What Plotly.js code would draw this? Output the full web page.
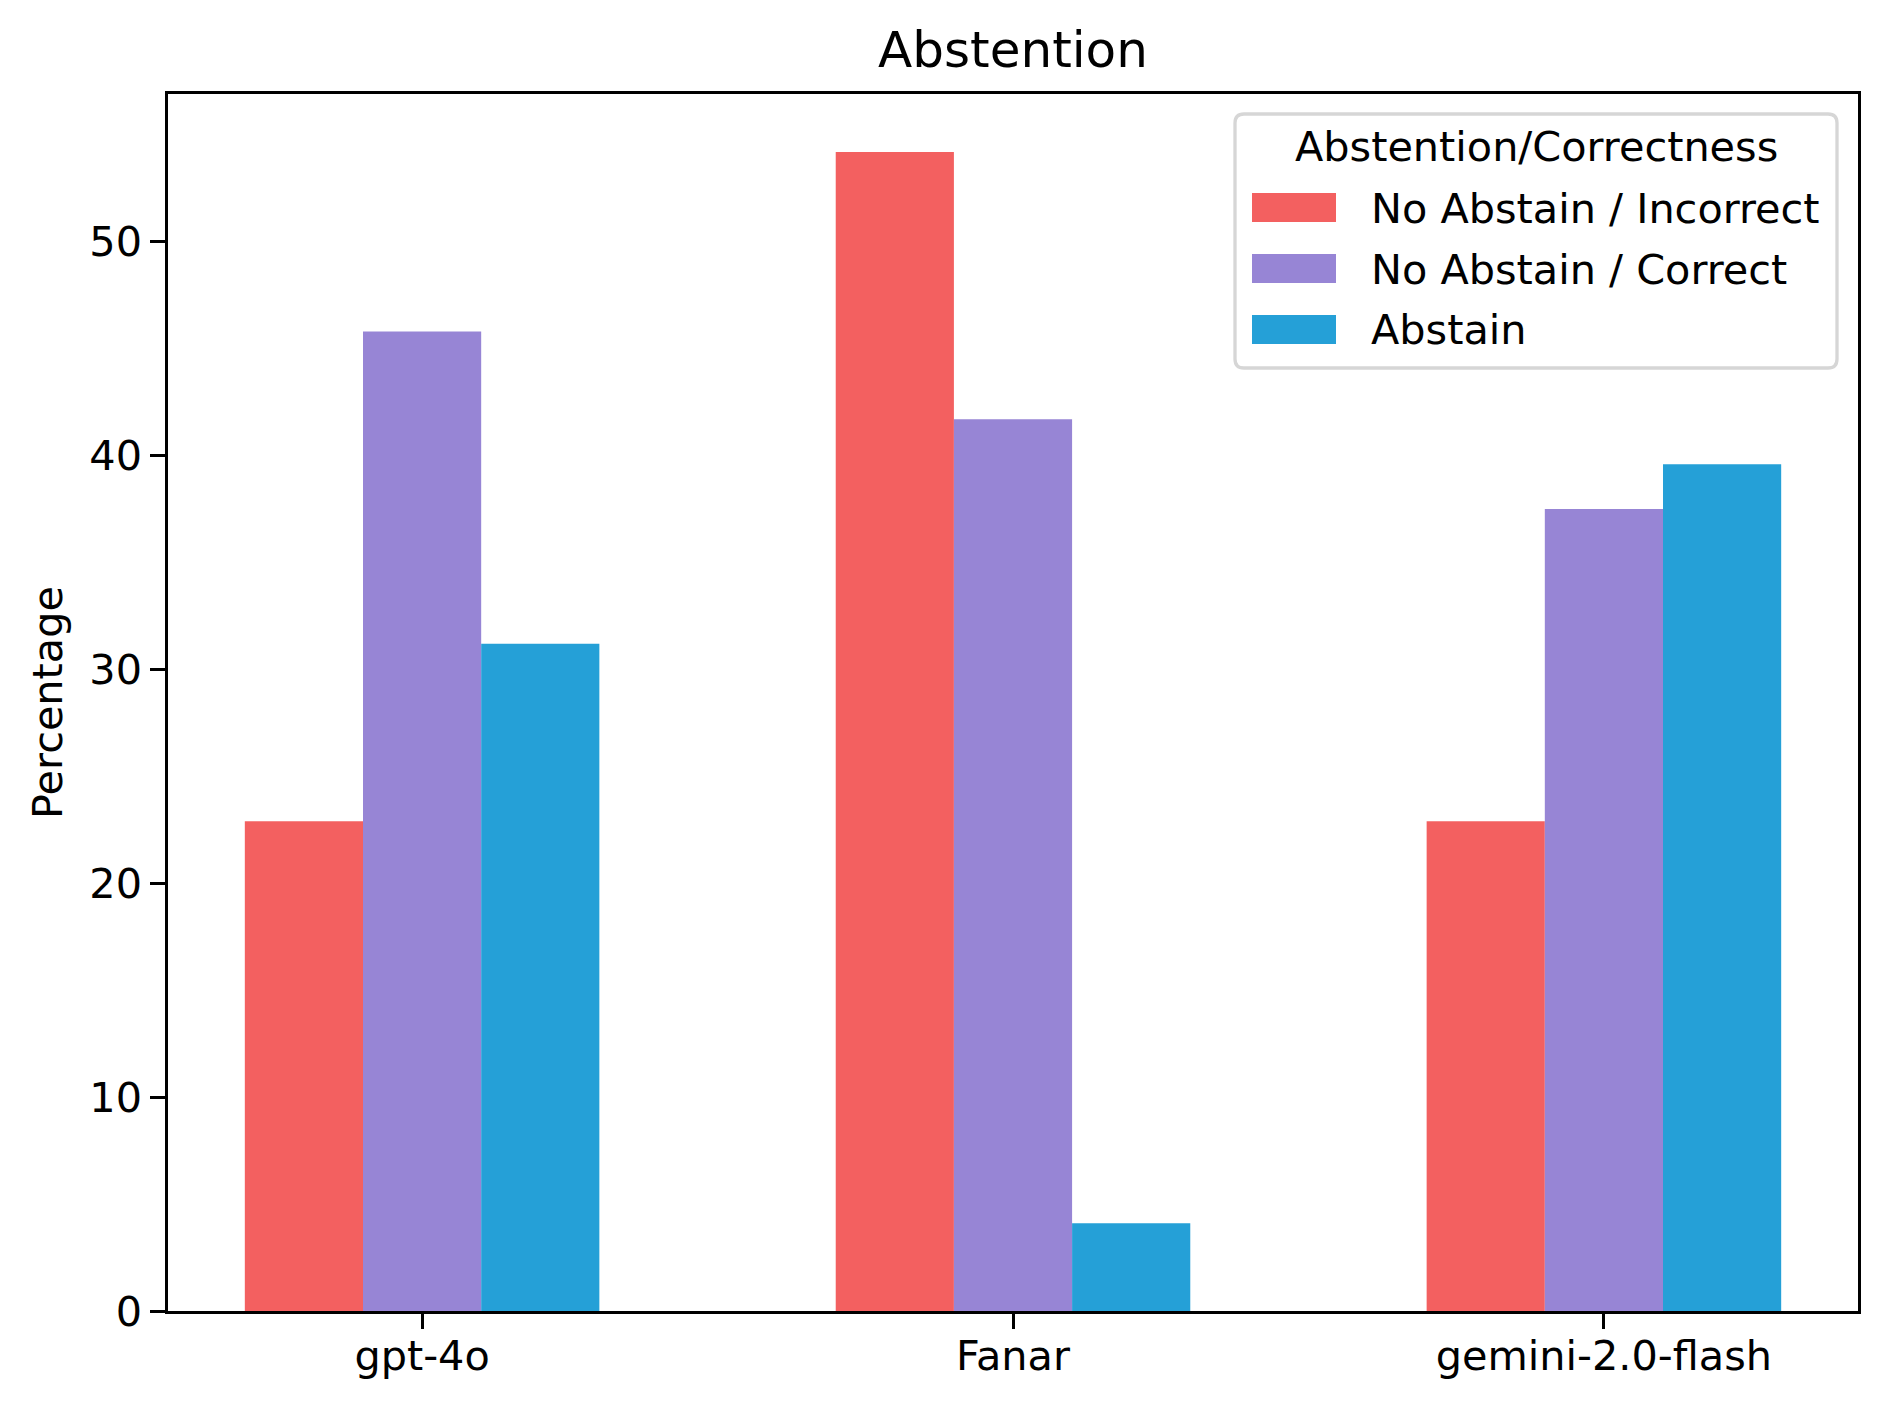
<!DOCTYPE html>
<html>
<head>
<meta charset="utf-8">
<script src="https://cdn.plot.ly/plotly-3.0.1.min.js"></script>
<style>html,body{margin:0;padding:0;background:#fff;}#chart{width:1887px;height:1410px;}</style>
</head>
<body>
<div id="chart"></div>
<script>
// ---- data ----
var models = ["gpt-4o", "Fanar", "gemini-2.0-flash"];
var seriesNames = ["No Abstain / Incorrect", "No Abstain / Correct", "Abstain"];
var incorrect = [22.9, 54.2, 22.9];
var correct = [45.8, 41.7, 37.5];
var abstain = [31.2, 4.1, 39.6];
var seriesColors = ["#f36060", "#9785d5", "#25a0d7"];
var legendTitle = "Abstention/Correctness";
var chartTitle = "Abstention";
var yTitle = "Percentage";
var yTicks = [0, 10, 20, 30, 40, 50];

// ---- layout geometry (pixels) ----
var W = 1887, H = 1410;
var L = 168, R = 1858, T = 94, B = 1311;
function px(x) { return (x - L) / (R - L); }
function py(y) { return (B - y) / (B - T); }
var FONT = "DejaVu Sans, Liberation Sans, sans-serif";
var FS = 41.4;

var values = [incorrect, correct, abstain];
var traces = values.map(function (v, i) {
  return {
    type: "bar",
    x: models,
    y: v,
    name: seriesNames[i],
    marker: { color: seriesColors[i], line: { width: 0 } },
    showlegend: false,
    hoverinfo: "x+y+name"
  };
});

// custom matplotlib-like legend
var lx0 = 1235, lx1 = 1837, ly0 = 114, ly1 = 368, rad = 9;
var rx = rad / (R - L), ry = rad / (B - T);
var X0 = px(lx0), X1 = px(lx1), Y0 = py(ly1), Y1 = py(ly0);
var framePath = "M " + (X0 + rx) + " " + Y1 +
  " L " + (X1 - rx) + " " + Y1 + " Q " + X1 + " " + Y1 + " " + X1 + " " + (Y1 - ry) +
  " L " + X1 + " " + (Y0 + ry) + " Q " + X1 + " " + Y0 + " " + (X1 - rx) + " " + Y0 +
  " L " + (X0 + rx) + " " + Y0 + " Q " + X0 + " " + Y0 + " " + X0 + " " + (Y0 + ry) +
  " L " + X0 + " " + (Y1 - ry) + " Q " + X0 + " " + Y1 + " " + (X0 + rx) + " " + Y1 + " Z";

var shapes = [{
  type: "path", xref: "paper", yref: "paper", path: framePath,
  fillcolor: "rgba(255,255,255,0.8)", line: { color: "#d6d6d6", width: 3.3 }, layer: "above"
}];
var annotations = [{
  xref: "paper", yref: "paper", x: px((lx0 + lx1) / 2), y: py(147),
  xanchor: "center", yanchor: "middle", showarrow: false,
  text: legendTitle, font: { family: FONT, size: FS, color: "#000" }
}];
var rowCenters = [207.5, 268.5, 329.5];
seriesNames.forEach(function (n, i) {
  var c = rowCenters[i];
  shapes.push({
    type: "rect", xref: "paper", yref: "paper",
    x0: px(1252), x1: px(1336), y0: py(c + 14.5), y1: py(c - 14.5),
    fillcolor: seriesColors[i], line: { width: 0 }, layer: "above"
  });
  annotations.push({
    xref: "paper", yref: "paper", x: px(1369), y: py(c + 1),
    xanchor: "left", yanchor: "middle", showarrow: false,
    text: n, font: { family: FONT, size: FS, color: "#000" }
  });
});

var axisCommon = {
  showline: true, linecolor: "#000", linewidth: 3.3, mirror: true,
  ticks: "outside", ticklen: 14.6, tickwidth: 3.3, tickcolor: "#000",
  showgrid: false, zeroline: false,
  tickfont: { family: FONT, size: FS, color: "#000" }
};

var layout = {
  width: W, height: H,
  margin: { l: L, r: W - R, t: T, b: H - B, pad: 0 },
  paper_bgcolor: "#fff", plot_bgcolor: "#fff",
  barmode: "group", bargap: 0.4, bargroupgap: 0,
  font: { family: FONT, size: FS, color: "#000" },
  title: {
    text: chartTitle, font: { family: FONT, size: 50, color: "#000" },
    xref: "paper", x: 0.5, xanchor: "center",
    yref: "container", y: 1 - 49.5 / H, yanchor: "middle"
  },
  xaxis: Object.assign({}, axisCommon, {
    type: "category", range: [-0.43, 2.43], ticklabelstandoff: -8
  }),
  yaxis: Object.assign({}, axisCommon, {
    range: [0, 56.91], tickvals: yTicks, ticktext: yTicks.map(String),
    title: { text: yTitle, font: { family: FONT, size: FS, color: "#000" }, standoff: 14 }
  }),
  shapes: shapes,
  annotations: annotations,
  showlegend: false
};

Plotly.newPlot("chart", traces, layout, { displayModeBar: false, responsive: false });
</script>
</body>
</html>
